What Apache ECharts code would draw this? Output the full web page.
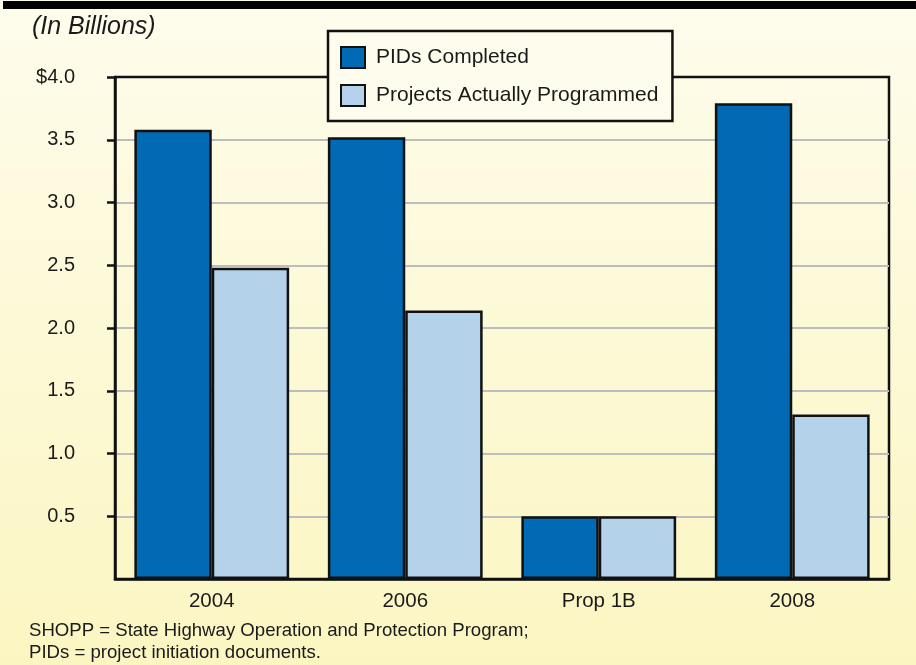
<!DOCTYPE html>
<html>
<head>
<meta charset="utf-8">
<script src="https://cdn.jsdelivr.net/npm/echarts@6/dist/echarts.min.js"></script>
<style>
html,body{margin:0;padding:0;}
#chart{width:916px;height:665px;}
</style>
</head>
<body>
<div id="chart"></div>
<script>
var categories = ['2004', '2006', 'Prop 1B', '2008'];
var pidsCompleted = [3.58, 3.52, 0.5, 3.79];
var projectsProgrammed = [2.48, 2.14, 0.5, 1.31];
var seriesNames = ['PIDs Completed', 'Projects Actually Programmed'];
var yTickValues = [0.5, 1, 1.5, 2, 2.5, 3, 3.5, 4];
var unitLabel = '(In Billions)';
var footnotes = ['SHOPP = State Highway Operation and Protection Program;', 'PIDs = project initiation documents.'];

var chart = echarts.init(document.getElementById('chart'));
var FONT = 'Liberation Sans, Arial, Helvetica, sans-serif';
var TXT = '#1a1a1a';
var G = '#bdbdbd';

var option = {
  backgroundColor: new echarts.graphic.LinearGradient(0, 0, 0, 1, [
    {offset: 0, color: '#fefcec'},
    {offset: 1, color: '#fbf6c1'}
  ]),
  textStyle: {fontFamily: FONT},
  graphic: [
    {type: 'rect', left: 3, top: 1, shape: {width: 913, height: 8}, style: {fill: '#000'}, z: 10},
    {type: 'text', left: 32, top: 15, style: {text: unitLabel, font: 'italic 25px ' + FONT, fill: TXT}},
    {type: 'text', left: 29, top: 621, style: {text: footnotes[0], font: '18.6px ' + FONT, fill: TXT}},
    {type: 'text', left: 29, top: 643, style: {text: footnotes[1], font: '18.6px ' + FONT, fill: TXT}}
  ],
  legend: {
    orient: 'vertical',
    left: 328,
    top: 31,
    backgroundColor: '#fefcec',
    borderColor: '#111',
    borderWidth: 2.5,
    padding: [15, 14, 14, 12],
    itemWidth: 24,
    itemHeight: 21,
    itemGap: 15,
    icon: 'rect',
    textStyle: {fontSize: 21, color: TXT, fontFamily: FONT, padding: [0, 0, 0, 6]},
    data: seriesNames,
    z: 20
  },
  grid: {
    left: 115, right: 27, top: 77, bottom: 86,
    show: true, borderColor: '#111', borderWidth: 2.5, backgroundColor: 'transparent'
  },
  xAxis: {
    type: 'category',
    data: categories,
    axisTick: {show: false},
    axisLine: {lineStyle: {color: '#111', width: 2.5}},
    axisLabel: {fontSize: 20.5, color: TXT, margin: 12, fontFamily: FONT}
  },
  yAxis: {
    type: 'value',
    min: 0, max: 4, interval: 0.5,
    axisLine: {show: true, lineStyle: {color: '#111', width: 2.5}},
    axisTick: {show: true, length: 8, customValues: yTickValues, lineStyle: {color: '#111', width: 2.5}},
    splitLine: {show: true, lineStyle: {color: [G, G, G, G, G, G, G, 'transparent'], width: 2}},
    axisLabel: {
      fontSize: 20, color: TXT, margin: 40, fontFamily: FONT,
      formatter: function (v) { if (v === 0) return ''; if (v === 4) return '$4.0'; return v.toFixed(1); }
    }
  },
  series: [
    {
      name: seriesNames[0], type: 'bar', data: pidsCompleted,
      barGap: '0%', barCategoryGap: '20%',
      itemStyle: {color: '#006ab5', borderColor: '#111', borderWidth: 2.5}
    },
    {
      name: seriesNames[1], type: 'bar', data: projectsProgrammed,
      barGap: '0%', barCategoryGap: '20%',
      itemStyle: {color: '#b4d3ea', borderColor: '#111', borderWidth: 2.5}
    }
  ]
};
chart.setOption(option);
</script>
</body>
</html>
